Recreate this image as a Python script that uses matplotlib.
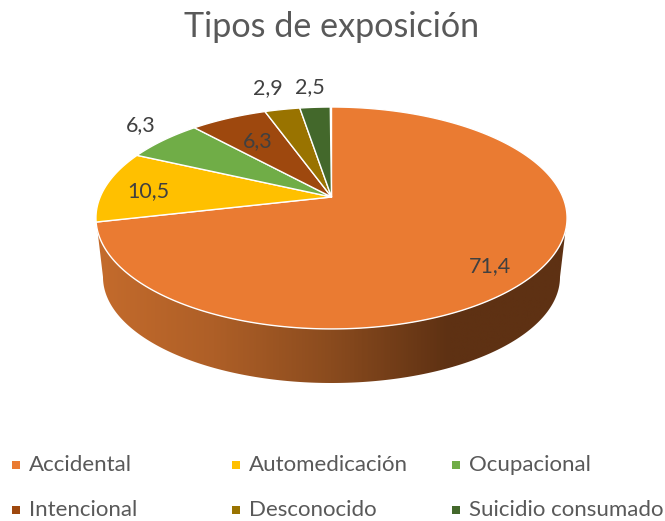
import numpy as np
import matplotlib
matplotlib.use('Agg')
import matplotlib.pyplot as plt
from matplotlib.colors import LinearSegmentedColormap
from matplotlib.patches import Polygon

plt.rcParams['font.family'] = ['Lato', 'DejaVu Sans']

categorias = ['Accidental', 'Automedicación', 'Ocupacional', 'Intencional', 'Desconocido', 'Suicidio consumado']
valores = [71.4, 10.5, 6.3, 6.3, 2.9, 2.5]
etiquetas = ['71,4', '10,5', '6,3', '6,3', '2,9', '2,5']
colores = ['#EA7B32', '#FFC000', '#70AD47', '#9E480E', '#997300', '#43682B']

# posicion de etiquetas y leyenda en pixeles
pos_etq = [(490, 266), (148, 191), (141, 125), (258, 141), (268, 88), (310, 87)]
pos_ley = [(16, 465), (236, 465), (456, 465), (16, 510), (236, 510), (456, 510)]

# perspectiva: el centro del circulo cae en (cx, cy), por encima del centro de la elipse
cx, cy = 331.5, 197.0
a = 0.189
bx, by = 231.3, 107.0


def proyectar(ang):
    # ang en grados, horario desde arriba
    t = np.radians(ang)
    u, v = np.sin(t), np.cos(t)
    w = 1 + a * v
    return cx + bx * u / w, cy - by * v / w


fig = plt.figure(figsize=(6.65, 5.21), dpi=100)
ax = fig.add_axes([0, 0, 1, 1])

# lateral con degradado
t = np.linspace(0, np.pi, 200)
x_sup = 331.5 - 235.5 * np.cos(t)
y_sup = 218 + 111 * np.sin(t)
x_inf = 331.5 + 228.5 * np.cos(t)
y_inf = 277 + 106 * np.sin(t)
lateral = Polygon(np.column_stack([np.r_[x_sup, x_inf], np.r_[y_sup, y_inf]]),
                  closed=True, transform=ax.transData, facecolor='none', edgecolor='none')
ax.add_patch(lateral)
cmap = LinearSegmentedColormap.from_list('lat', ['#C46B2C', '#AE5F27', '#8A4B1E', '#5E3113', '#5E3113'])
img = ax.imshow(np.linspace(0, 1, 400).reshape(1, -1), extent=(96, 567, 390, 210), cmap=cmap,
                aspect='auto', zorder=1)
img.set_clip_path(lateral)

# sectores
inicio = 0.0
for val, col in zip(valores, colores):
    fin = inicio + val * 3.6
    angs = np.linspace(inicio, fin, max(int(val * 6), 6))
    xs, ys = proyectar(angs)
    ax.fill(np.r_[cx, xs], np.r_[cy, ys], facecolor=col, edgecolor='#FFFFFF', linewidth=1.0,
            joinstyle='round', zorder=2)
    inicio = fin

for txt, (x, y) in zip(etiquetas, pos_etq):
    ax.text(x, y, txt, ha='center', va='center', fontsize=15.5, color='#404040', zorder=3)

ax.text(332, 27, 'Tipos de exposición', ha='center', va='center', fontsize=24.6, color='#595959')

for cat, col, (x, y) in zip(categorias, colores, pos_ley):
    ax.scatter([x], [y], marker='s', s=30, color=col, linewidths=0)
    ax.text(x + 13, y, cat, ha='left', va='center', fontsize=16, color='#595959')

ax.set_xlim(0, 665)
ax.set_ylim(521, 0)
ax.axis('off')

fig.savefig('out.png', dpi=100)
